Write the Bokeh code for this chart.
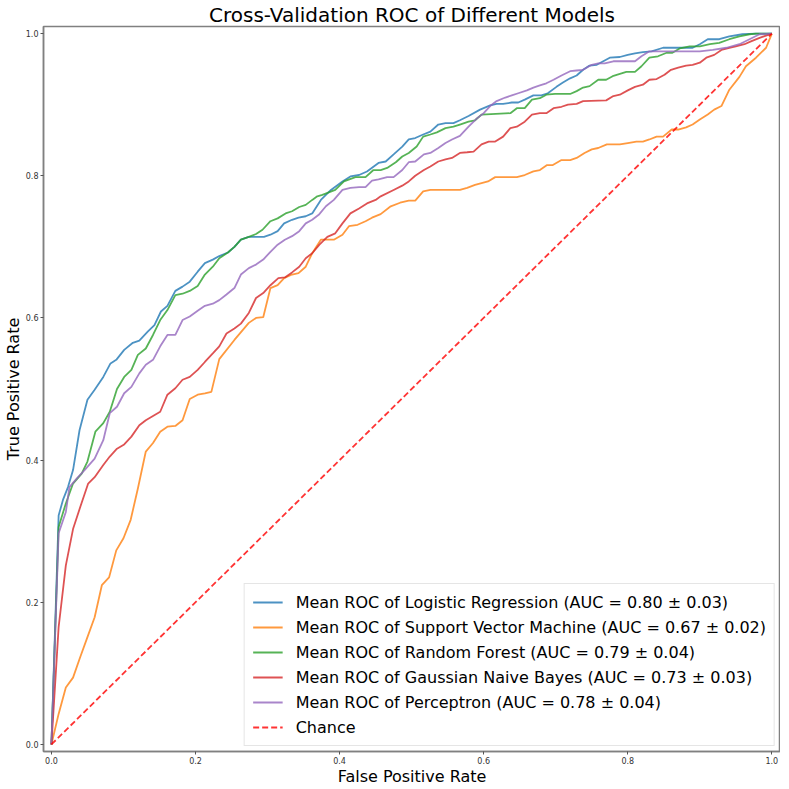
from bokeh.plotting import figure
from bokeh.models import Range1d, FixedTicker, PrintfTickFormatter, Legend
from bokeh.embed import file_html
from bokeh.resources import INLINE

# ---- data (fpr, tpr) pairs ----
lr_pts = [(0,0),(0.01,0.322),(0.016,0.344),(0.023,0.362),(0.03,0.386),(0.039,0.442),(0.05,0.485),(0.06,0.499),
          (0.072,0.517),(0.082,0.536),(0.09,0.541),(0.101,0.555),(0.113,0.565),(0.122,0.568),(0.134,0.581),(0.143,0.59),
          (0.152,0.609),(0.161,0.617),(0.172,0.638),(0.182,0.644),(0.192,0.651),(0.203,0.665),(0.213,0.677),(0.224,0.682),
          (0.233,0.687),(0.245,0.692),(0.254,0.70),(0.263,0.71),(0.274,0.714),(0.295,0.714),(0.304,0.717),(0.314,0.722),
          (0.323,0.733),(0.334,0.738),(0.343,0.741),(0.353,0.743),(0.362,0.747),(0.374,0.766),(0.388,0.78),(0.404,0.792),
          (0.415,0.799),(0.427,0.801),(0.438,0.806),(0.454,0.818),(0.464,0.82),(0.475,0.83),(0.487,0.841),(0.496,0.851),
          (0.505,0.853),(0.516,0.858),(0.526,0.862),(0.537,0.872),(0.547,0.874),(0.558,0.874),(0.567,0.878),(0.579,0.884),
          (0.595,0.893),(0.609,0.899),(0.618,0.901),(0.627,0.901),(0.639,0.903),(0.648,0.903),(0.657,0.907),(0.669,0.913),
          (0.68,0.913),(0.689,0.916),(0.701,0.925),(0.71,0.931),(0.72,0.937),(0.729,0.941),(0.738,0.949),(0.747,0.955),
          (0.757,0.956),(0.766,0.961),(0.775,0.966),(0.789,0.967),(0.80,0.97),(0.81,0.972),(0.821,0.974),(0.833,0.975),
          (0.849,0.98),(0.89,0.98),(0.90,0.985),(0.911,0.992),(0.927,0.992),(0.941,0.996),(0.959,0.999),(0.978,1.0),(1.0,1.0)]

svm_pts = [(0,0),(0.01,0.043),(0.02,0.08),(0.03,0.094),(0.04,0.123),(0.05,0.151),(0.06,0.179),(0.07,0.224),(0.08,0.235),
           (0.09,0.273),(0.10,0.29),(0.11,0.316),(0.12,0.36),(0.131,0.412),(0.141,0.424),(0.151,0.44),(0.161,0.447),
           (0.172,0.448),(0.182,0.456),(0.192,0.486),(0.203,0.492),(0.213,0.494),(0.222,0.496),(0.233,0.542),(0.254,0.569),
           (0.274,0.593),(0.284,0.60),(0.294,0.601),(0.304,0.642),(0.314,0.646),(0.323,0.656),(0.334,0.661),(0.343,0.663),
           (0.353,0.672),(0.362,0.691),(0.374,0.71),(0.392,0.71),(0.404,0.717),(0.413,0.729),(0.425,0.731),(0.436,0.736),
           (0.445,0.741),(0.457,0.746),(0.471,0.757),(0.484,0.762),(0.496,0.765),(0.505,0.765),(0.516,0.778),(0.526,0.78),
           (0.567,0.78),(0.577,0.783),(0.588,0.787),(0.606,0.792),(0.616,0.798),(0.646,0.798),(0.657,0.801),(0.669,0.806),
           (0.678,0.808),(0.688,0.815),(0.696,0.815),(0.708,0.822),(0.72,0.822),(0.729,0.825),(0.74,0.832),(0.75,0.837),
           (0.759,0.839),(0.771,0.844),(0.789,0.844),(0.80,0.846),(0.812,0.848),(0.821,0.848),(0.83,0.851),(0.84,0.855),
           (0.849,0.855),(0.861,0.865),(0.87,0.865),(0.881,0.868),(0.89,0.872),(0.90,0.879),(0.911,0.886),(0.92,0.893),
           (0.93,0.898),(0.941,0.921),(0.955,0.939),(0.964,0.954),(0.978,0.966),(0.992,0.98),(1.0,1.0)]

rf_pts = [(0,0),(0.01,0.306),(0.02,0.339),(0.03,0.367),(0.042,0.381),(0.05,0.398),(0.061,0.44),(0.072,0.452),(0.081,0.468),
          (0.091,0.50),(0.101,0.517),(0.111,0.527),(0.12,0.548),(0.131,0.557),(0.141,0.576),(0.151,0.597),(0.161,0.611),
          (0.172,0.632),(0.182,0.634),(0.192,0.638),(0.203,0.645),(0.213,0.661),(0.224,0.672),(0.233,0.684),(0.245,0.692),
          (0.254,0.70),(0.263,0.71),(0.274,0.714),(0.284,0.718),(0.293,0.724),(0.304,0.736),(0.314,0.74),(0.325,0.747),
          (0.334,0.75),(0.344,0.756),(0.353,0.759),(0.362,0.766),(0.369,0.771),(0.376,0.773),(0.394,0.78),(0.406,0.792),
          (0.422,0.798),(0.436,0.798),(0.447,0.808),(0.457,0.808),(0.466,0.811),(0.478,0.819),(0.487,0.827),(0.496,0.832),
          (0.507,0.841),(0.516,0.855),(0.526,0.858),(0.535,0.861),(0.547,0.867),(0.558,0.869),(0.567,0.872),(0.579,0.876),
          (0.588,0.878),(0.597,0.886),(0.637,0.888),(0.646,0.895),(0.657,0.895),(0.667,0.907),(0.678,0.909),(0.687,0.914),
          (0.699,0.915),(0.72,0.915),(0.729,0.919),(0.738,0.924),(0.747,0.926),(0.759,0.935),(0.77,0.935),(0.779,0.94),
          (0.798,0.946),(0.81,0.946),(0.819,0.954),(0.83,0.966),(0.842,0.968),(0.854,0.973),(0.862,0.973),(0.872,0.979),
          (0.886,0.982),(0.90,0.982),(0.914,0.985),(0.927,0.987),(0.941,0.992),(0.955,0.996),(0.969,0.999),(0.978,1.0),(1.0,1.0)]

gnb_pts = [(0,0),(0.01,0.165),(0.02,0.252),(0.03,0.303),(0.04,0.334),(0.051,0.367),(0.06,0.376),(0.072,0.393),(0.081,0.405),
           (0.091,0.416),(0.101,0.422),(0.111,0.433),(0.122,0.449),(0.131,0.456),(0.141,0.462),(0.151,0.468),(0.161,0.492),
           (0.172,0.501),(0.182,0.513),(0.192,0.517),(0.203,0.527),(0.213,0.538),(0.224,0.55),(0.233,0.56),(0.243,0.578),
           (0.254,0.585),(0.263,0.592),(0.274,0.607),(0.284,0.628),(0.294,0.635),(0.304,0.646),(0.315,0.656),(0.324,0.657),
           (0.334,0.664),(0.344,0.672),(0.353,0.684),(0.362,0.691),(0.372,0.703),(0.383,0.714),(0.394,0.719),(0.404,0.733),
           (0.415,0.747),(0.427,0.754),(0.438,0.761),(0.45,0.766),(0.457,0.771),(0.475,0.78),(0.487,0.786),(0.496,0.792),
           (0.505,0.80),(0.517,0.808),(0.526,0.813),(0.537,0.82),(0.547,0.823),(0.556,0.825),(0.567,0.832),(0.577,0.833),
           (0.586,0.834),(0.597,0.844),(0.607,0.848),(0.616,0.848),(0.627,0.855),(0.637,0.867),(0.646,0.869),(0.657,0.876),
           (0.667,0.886),(0.678,0.888),(0.687,0.888),(0.697,0.895),(0.708,0.897),(0.717,0.90),(0.729,0.901),(0.738,0.905),
           (0.77,0.906),(0.78,0.912),(0.789,0.914),(0.80,0.92),(0.81,0.925),(0.821,0.928),(0.83,0.935),(0.84,0.936),
           (0.851,0.942),(0.86,0.949),(0.87,0.952),(0.881,0.955),(0.89,0.956),(0.90,0.959),(0.909,0.966),(0.92,0.97),
           (0.93,0.977),(0.941,0.98),(0.95,0.982),(0.962,0.985),(0.971,0.989),(0.983,0.994),(1.0,1.0)]

per_pts = [(0,0),(0.01,0.297),(0.02,0.327),(0.025,0.362),(0.035,0.374),(0.046,0.386),(0.06,0.402),(0.072,0.428),(0.081,0.466),
           (0.091,0.475),(0.101,0.494),(0.111,0.503),(0.122,0.522),(0.131,0.534),(0.141,0.541),(0.151,0.56),(0.161,0.576),
           (0.172,0.576),(0.182,0.597),(0.192,0.602),(0.203,0.61),(0.213,0.617),(0.224,0.62),(0.233,0.625),(0.243,0.633),
           (0.254,0.642),(0.263,0.661),(0.274,0.67),(0.284,0.675),(0.294,0.682),(0.304,0.693),(0.314,0.703),(0.324,0.71),
           (0.334,0.715),(0.344,0.722),(0.353,0.733),(0.362,0.738),(0.371,0.745),(0.381,0.757),(0.392,0.766),(0.404,0.78),
           (0.415,0.783),(0.427,0.784),(0.436,0.784),(0.445,0.793),(0.454,0.795),(0.466,0.798),(0.475,0.798),(0.487,0.808),
           (0.496,0.819),(0.505,0.82),(0.517,0.83),(0.526,0.832),(0.537,0.839),(0.547,0.846),(0.556,0.851),(0.567,0.856),
           (0.579,0.869),(0.591,0.881),(0.60,0.888),(0.609,0.898),(0.618,0.905),(0.63,0.91),(0.639,0.913),(0.648,0.916),
           (0.66,0.92),(0.669,0.924),(0.678,0.927),(0.687,0.93),(0.697,0.935),(0.708,0.941),(0.72,0.947),(0.729,0.948),
           (0.738,0.949),(0.75,0.956),(0.759,0.958),(0.768,0.958),(0.78,0.961),(0.81,0.961),(0.819,0.968),(0.83,0.975),
           (0.90,0.975),(0.918,0.977),(0.937,0.98),(0.955,0.985),(0.969,0.992),(0.983,0.999),(1.0,1.0)]

chance_x = [0, 1]
chance_y = [0, 1]

series_labels = [
    "Mean ROC of Logistic Regression (AUC = 0.80 \u00b1 0.03)",
    "Mean ROC of Support Vector Machine (AUC = 0.67 \u00b1 0.02)",
    "Mean ROC of Random Forest (AUC = 0.79 \u00b1 0.04)",
    "Mean ROC of Gaussian Naive Bayes (AUC = 0.73 \u00b1 0.03)",
    "Mean ROC of Perceptron (AUC = 0.78 \u00b1 0.04)",
]
series_data = [lr_pts, svm_pts, rf_pts, gnb_pts, per_pts]
series_colors = ["#1f77b4", "#ff7f0e", "#2ca02c", "#d62728", "#9467bd"]
ticks = [0.0, 0.2, 0.4, 0.6, 0.8, 1.0]

FONT = "DejaVu Sans"

p = figure(width=780, height=788, output_backend="svg", toolbar_location=None,
           x_range=Range1d(-0.011, 1.012), y_range=Range1d(-0.0099, 1.0099),
           min_border_left=0, min_border_right=0, min_border_top=0, min_border_bottom=0)

p.title.text = "Cross-Validation ROC of Different Models"
p.title.align = "center"
p.title.text_font = FONT
p.title.text_font_size = "20px"
p.title.text_font_style = "normal"
p.title.text_color = "#000000"
p.title.standoff = 0
p.title.offset = 0

p.xgrid.visible = False
p.ygrid.visible = False
p.outline_line_color = "#808080"
p.outline_line_width = 1.5

for ax in (p.xaxis[0], p.yaxis[0]):
    ax.ticker = FixedTicker(ticks=ticks)
    ax.formatter = PrintfTickFormatter(format="%.1f")
    ax.major_label_text_font = FONT
    ax.major_label_text_font_size = "8px"
    ax.major_label_text_color = "#333333"
    ax.axis_label_text_font = FONT
    ax.axis_label_text_font_size = "16px"
    ax.axis_label_text_font_style = "normal"
    ax.axis_label_text_color = "#000000"
    ax.minor_tick_line_color = None
    ax.major_tick_out = 3
    ax.major_tick_in = 0
    ax.major_tick_line_color = "#555555"
    ax.axis_line_color = "#808080"
    ax.axis_line_width = 1.5
    ax.major_label_standoff = 2
    ax.axis_label_standoff = 0

p.xaxis.axis_label = "False Positive Rate"
p.yaxis.axis_label = "True Positive Rate"

items = []
for pts, lab, col in zip(series_data, series_labels, series_colors):
    xs = [a for a, b in pts]
    ys = [b for a, b in pts]
    r = p.line(xs, ys, line_color=col, line_alpha=0.8, line_width=1.8)
    items.append((lab, [r]))

rc = p.line(chance_x, chance_y, line_color="#ff0000", line_alpha=0.8, line_width=1.8, line_dash="6 3")
items.append(("Chance", [rc]))

legend = Legend(items=items, location="bottom_right")
legend.label_text_font = FONT
legend.label_text_font_size = "16px"
legend.label_text_color = "#000000"
legend.glyph_width = 30
legend.glyph_height = 20
legend.label_height = 20
legend.spacing = 5
legend.padding = 8
legend.margin = 5
legend.label_standoff = 13
legend.border_line_color = "#cccccc"
legend.border_line_width = 1
legend.background_fill_alpha = 0.8
p.add_layout(legend)

open("out.html", "w").write(file_html(p, INLINE))
